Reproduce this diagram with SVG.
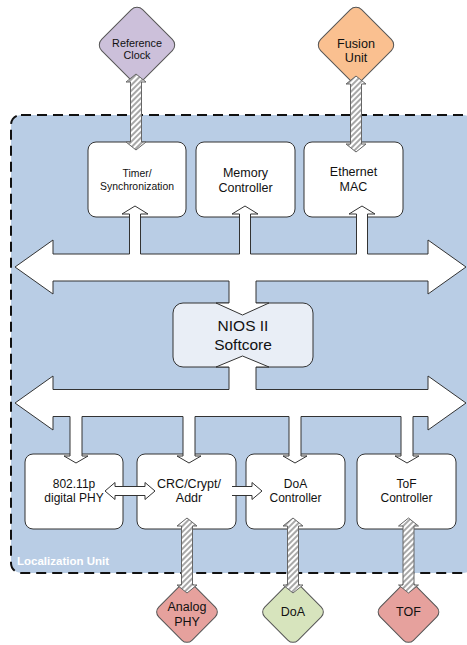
<svg xmlns="http://www.w3.org/2000/svg" width="467" height="645" viewBox="0 0 467 645">
<style>
.box{fill:#fff;stroke:#333;stroke-width:1}
.lbl{font-family:"Liberation Sans",Arial,sans-serif;fill:#111;text-anchor:middle}
.bus{fill:#fff;stroke:#333;stroke-width:1;stroke-linejoin:miter}
.hatch{fill:url(#stripes);stroke:#666;stroke-width:1}
.dia{stroke:#555;stroke-width:1}
</style>
<defs>
<pattern id="stripes" width="4" height="4" patternUnits="userSpaceOnUse" patternTransform="rotate(45)">
<rect width="4" height="4" fill="#fff"/>
<rect width="2" height="4" fill="#a8a8a8"/>
</pattern>
</defs>
<g id="localization-unit">
<rect x="11" y="115" width="462" height="458" rx="10" fill="#b9cde5" stroke="#111" stroke-width="2" stroke-dasharray="10 6"/>
<text x="17" y="565" font-family="Liberation Sans,Arial,sans-serif" font-weight="bold" font-size="11.5" fill="#fff">Localization Unit</text>
</g>
<g id="reference-clock">
<rect x="-29" y="-29" width="58" height="58" rx="8" class="dia" fill="#ccc0da" transform="translate(137,45) rotate(45)"/>
<text class="lbl" x="137" y="47" font-size="10.8">Reference</text>
<text class="lbl" x="137" y="59" font-size="10.8">Clock</text>
</g>
<g id="fusion-unit">
<rect x="-29" y="-29" width="58" height="58" rx="8" class="dia" fill="#fac090" transform="translate(356,45) rotate(45)"/>
<text class="lbl" x="356" y="47.5" font-size="12.6">Fusion</text>
<text class="lbl" x="356" y="61.5" font-size="12.6">Unit</text>
</g>
<g id="timer">
<rect class="box" x="88" y="142" width="98" height="75" rx="8"/>
<text class="lbl" x="137" y="177" font-size="10.4">Timer/</text>
<text class="lbl" x="137" y="190" font-size="10.4">Synchronization</text>
</g>
<g id="memory-controller">
<rect class="box" x="196" y="142" width="99" height="75" rx="8"/>
<text class="lbl" x="245.5" y="177" font-size="12.5">Memory</text>
<text class="lbl" x="245.5" y="192" font-size="12.5">Controller</text>
</g>
<g id="ethernet-mac">
<rect class="box" x="304" y="142" width="99" height="75" rx="8"/>
<text class="lbl" x="353.5" y="176" font-size="12.5">Ethernet</text>
<text class="lbl" x="353.5" y="190.5" font-size="12.5">MAC</text>
</g>
<g id="nios">
<rect x="173" y="303" width="140" height="64" rx="10" fill="#e9eef6" stroke="#333" stroke-width="1"/>
<text class="lbl" x="243" y="330.5" font-size="15.5">NIOS II</text>
<text class="lbl" x="243" y="349.5" font-size="15.5">Softcore</text>
</g>
<g id="phy">
<rect class="box" x="25" y="454" width="98" height="75" rx="8"/>
<text class="lbl" x="74" y="487.5" font-size="12">802.11p</text>
<text class="lbl" x="74" y="501.5" font-size="12">digital PHY</text>
</g>
<g id="crc">
<rect class="box" x="137" y="454" width="99" height="75" rx="8"/>
<text class="lbl" x="189" y="487.5" font-size="12.5">CRC/Crypt/</text>
<text class="lbl" x="189" y="502" font-size="12.5">Addr</text>
</g>
<g id="doa-controller">
<rect class="box" x="246" y="454" width="99" height="75" rx="8"/>
<text class="lbl" x="295.5" y="487.5" font-size="12">DoA</text>
<text class="lbl" x="295.5" y="502" font-size="12">Controller</text>
</g>
<g id="tof-controller">
<rect class="box" x="357" y="454" width="99" height="75" rx="8"/>
<text class="lbl" x="406.5" y="487.5" font-size="12">ToF</text>
<text class="lbl" x="406.5" y="502" font-size="12">Controller</text>
</g>
<g id="analog-phy">
<rect x="-23.5" y="-23.5" width="47" height="47" rx="7" class="dia" fill="#e6a19d" transform="translate(187,612) rotate(45)"/>
<text class="lbl" x="187" y="610.5" font-size="12.5">Analog</text>
<text class="lbl" x="187" y="626" font-size="12.5">PHY</text>
</g>
<g id="doa">
<rect x="-23.5" y="-23.5" width="47" height="47" rx="7" class="dia" fill="#d7e4bd" transform="translate(293,612) rotate(45)"/>
<text class="lbl" x="293" y="616" font-size="12.5">DoA</text>
</g>
<g id="tof">
<rect x="-23.5" y="-23.5" width="47" height="47" rx="7" class="dia" fill="#e6a19d" transform="translate(408.5,612) rotate(45)"/>
<text class="lbl" x="408.5" y="616" font-size="12.5">TOF</text>
</g>
<g id="connectors">
<path class="bus" d="M15,267 L53,240 L53,254 L129.5,254 L129.5,214 L122,214 L135,206 L148,214 L140.5,214 L140.5,254 L239.5,254 L239.5,214 L232,214 L245,206 L258,214 L250.5,214 L250.5,254 L356.5,254 L356.5,214 L349,214 L362,206 L375,214 L367.5,214 L367.5,254 L428,254 L428,240 L466,267 L428,294 L428,281 L256,281 L256,303 L269,303 L242.5,315 L216,303 L229,303 L229,281 L53,281 L53,294 Z"/>
<path class="bus" d="M15,403 L53,376 L53,389.5 L229,389.5 L229,367 L216,367 L242.5,356 L269,367 L256,367 L256,389.5 L428,389.5 L428,376 L466,403 L428,430 L428,416.5 L413,416.5 L413,456 L419,456 L407,463 L395,456 L401,456 L401,416.5 L301,416.5 L301,456 L307,456 L295,463 L283,456 L289,456 L289,416.5 L195,416.5 L195,456 L201,456 L189,463 L177,456 L183,456 L183,416.5 L82,416.5 L82,456 L88,456 L76,463 L64,456 L70,456 L70,416.5 L53,416.5 L53,430 Z"/>
<path class="bus" d="M105,491 L115,482.5 L115,486.5 L145,486.5 L145,482.5 L155,491 L145,499.5 L145,495.5 L115,495.5 L115,499.5 Z"/>
<path class="bus" d="M232,486.5 L252,486.5 L252,482.5 L262,491 L252,499.5 L252,495.5 L232,495.5"/>
<path class="hatch" d="M136,74 L146,82 L141.5,82 L141.5,142 L146,142 L136,150 L126,142 L130.5,142 L130.5,82 L126,82 Z"/>
<path class="hatch" d="M356,76 L366,84 L361.5,84 L361.5,144 L366,144 L356,152 L346,144 L350.5,144 L350.5,84 L346,84 Z"/>
<path class="hatch" d="M187,518 L197,526 L192.5,526 L192.5,585 L197,585 L187,593 L177,585 L181.5,585 L181.5,526 L177,526 Z"/>
<path class="hatch" d="M293,518 L303,526 L298.5,526 L298.5,585 L303,585 L293,593 L283,585 L287.5,585 L287.5,526 L283,526 Z"/>
<path class="hatch" d="M408.5,518 L418.5,526 L414,526 L414,585 L418.5,585 L408.5,593 L398.5,585 L403,585 L403,526 L398.5,526 Z"/>
</g>
</svg>
